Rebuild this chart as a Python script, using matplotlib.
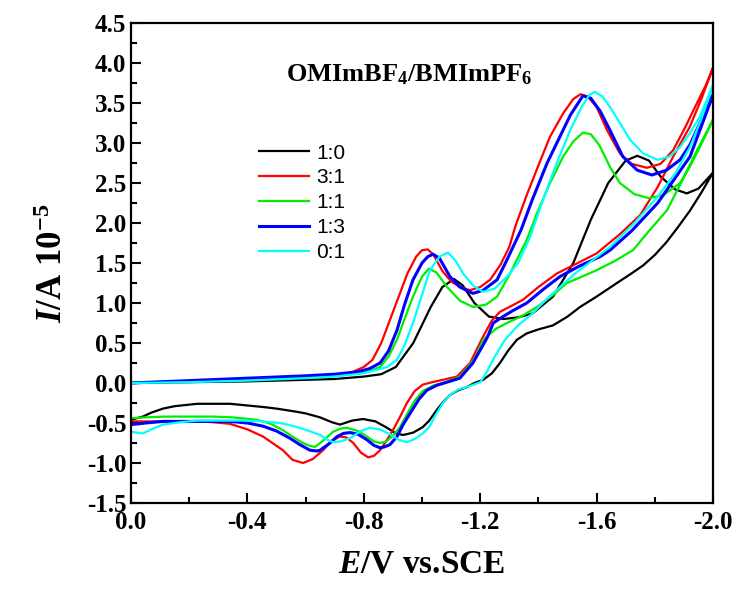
import matplotlib
matplotlib.use('Agg')
import matplotlib.pyplot as plt
from matplotlib.ticker import MultipleLocator

# ---- data: E (V vs SCE) and I (10^-5 A), forward then reverse sweep ----
labels = ['1:0', '3:1', '1:1', '1:3', '0:1']
colors = ['black', '#ff0000', '#00ee00', '#0000ff', '#00ffff']

black_fwd_E = [0, -0.2, -0.4, -0.6, -0.7, -0.8, -0.86, -0.91, -0.97, -1.03, -1.07, -1.11, -1.14, -1.18,
               -1.23, -1.28, -1.33, -1.38, -1.45, -1.52, -1.58, -1.64, -1.70, -1.74, -1.78, -1.82, -1.87,
               -1.91, -1.95, -2.0]
black_fwd_I = [0, 0.01, 0.02, 0.04, 0.05, 0.08, 0.11, 0.2, 0.5, 0.95, 1.2, 1.3, 1.22, 1.0,
               0.83, 0.8, 0.82, 0.87, 1.08, 1.5, 2.04, 2.5, 2.78, 2.84, 2.78, 2.58, 2.42,
               2.37, 2.43, 2.63]
black_rev_E = [-2.0, -1.96, -1.92, -1.88, -1.84, -1.80, -1.76, -1.72, -1.67, -1.6, -1.543, -1.5, -1.45,
               -1.40, -1.36, -1.326, -1.295, -1.268, -1.24, -1.21, -1.18, -1.155, -1.125, -1.096, -1.07,
               -1.05, -1.025, -1.003, -0.97, -0.935, -0.91, -0.88, -0.84, -0.797, -0.76, -0.718, -0.69,
               -0.65, -0.6, -0.57, -0.5, -0.454, -0.34, -0.227, -0.15, -0.11, -0.07, -0.041, -0.02, 0]
black_rev_I = [2.63, 2.38, 2.15, 1.95, 1.76, 1.6, 1.47, 1.37, 1.25, 1.08, 0.95, 0.83, 0.72,
               0.67, 0.62, 0.54, 0.4, 0.25, 0.12, 0.04, 0.0, -0.05, -0.09, -0.15, -0.25,
               -0.34, -0.47, -0.55, -0.62, -0.65, -0.63, -0.56, -0.48, -0.45, -0.47, -0.52, -0.49,
               -0.43, -0.38, -0.36, -0.32, -0.3, -0.26, -0.26, -0.29, -0.32, -0.37, -0.42, -0.44, -0.46]

red_fwd_E = [0, -0.2, -0.4, -0.6, -0.7, -0.75, -0.8, -0.83, -0.86, -0.89, -0.92, -0.95, -0.98, -1.0,
             -1.02, -1.04, -1.07, -1.10, -1.13, -1.165, -1.2, -1.234, -1.27, -1.30, -1.32, -1.36, -1.40,
             -1.44, -1.485, -1.52, -1.545, -1.57, -1.60, -1.636, -1.68, -1.72, -1.773, -1.82, -1.863,
             -1.905, -1.945, -1.975, -2.0]
red_fwd_I = [0, 0.02, 0.05, 0.08, 0.1, 0.12, 0.2, 0.29, 0.5, 0.79, 1.08, 1.37, 1.58, 1.66,
             1.67, 1.6, 1.4, 1.27, 1.2, 1.16, 1.2, 1.29, 1.48, 1.7, 1.95, 2.35, 2.72,
             3.08, 3.37, 3.55, 3.61, 3.58, 3.45, 3.16, 2.87, 2.74, 2.69, 2.74, 2.91,
             3.2, 3.5, 3.72, 3.94]
red_rev_E = [-2.0, -1.96, -1.92, -1.863, -1.81, -1.75, -1.68, -1.6, -1.53, -1.464, -1.40, -1.347, -1.30,
             -1.268, -1.24, -1.21, -1.165, -1.12, -1.072, -1.035, -1.003, -0.975, -0.948, -0.925, -0.9,
             -0.878, -0.856, -0.835, -0.815, -0.79, -0.764, -0.74, -0.718, -0.69, -0.66, -0.625, -0.591,
             -0.555, -0.522, -0.454, -0.40, -0.34, -0.28, -0.227, -0.11, 0]
red_rev_I = [3.94, 3.55, 3.2, 2.83, 2.45, 2.1, 1.86, 1.62, 1.49, 1.37, 1.2, 1.04, 0.95,
             0.89, 0.78, 0.58, 0.25, 0.08, 0.04, 0.01, -0.02, -0.1, -0.25, -0.42, -0.59,
             -0.72, -0.84, -0.91, -0.93, -0.87, -0.75, -0.68, -0.67, -0.72, -0.84, -0.95, -1.0,
             -0.96, -0.84, -0.67, -0.58, -0.51, -0.49, -0.48, -0.48, -0.48]

green_fwd_E = [0, -0.2, -0.4, -0.6, -0.7, -0.78, -0.82, -0.856, -0.885, -0.914, -0.94, -0.969, -1.0,
               -1.024, -1.05, -1.086, -1.13, -1.175, -1.22, -1.258, -1.3, -1.36, -1.395, -1.44, -1.485,
               -1.52, -1.553, -1.58, -1.61, -1.646, -1.68, -1.73, -1.78, -1.83, -1.887, -1.92, -1.955, -2.0]
green_fwd_I = [0, 0.02, 0.05, 0.08, 0.1, 0.12, 0.15, 0.2, 0.33, 0.54, 0.8, 1.08, 1.33,
               1.43, 1.38, 1.2, 1.03, 0.95, 0.98, 1.08, 1.35, 1.79, 2.12, 2.5, 2.83,
               3.02, 3.13, 3.11, 2.97, 2.7, 2.5, 2.36, 2.31, 2.35, 2.5, 2.7, 2.95, 3.29]
green_rev_E = [-2.0, -1.945, -1.89, -1.842, -1.78, -1.725, -1.66, -1.6, -1.55, -1.498, -1.45, -1.395,
               -1.34, -1.292, -1.255, -1.21, -1.18, -1.13, -1.09, -1.04, -1.003, -0.975, -0.95, -0.925,
               -0.9, -0.878, -0.856, -0.835, -0.811, -0.78, -0.742, -0.72, -0.694, -0.67, -0.65,
               -0.632, -0.61, -0.591, -0.555, -0.522, -0.48, -0.433, -0.35, -0.282, -0.11, -0.05, 0]
green_rev_I = [3.29, 2.91, 2.5, 2.16, 1.9, 1.66, 1.52, 1.41, 1.33, 1.25, 1.1, 0.95,
               0.83, 0.75, 0.68, 0.54, 0.3, 0.08, 0.02, -0.03, -0.1, -0.22, -0.38, -0.55,
               -0.66, -0.73, -0.75, -0.73, -0.67, -0.6, -0.56, -0.57, -0.61, -0.69, -0.75,
               -0.8, -0.78, -0.75, -0.67, -0.59, -0.51, -0.46, -0.43, -0.42, -0.42, -0.43, -0.44]

blue_fwd_E = [0, -0.2, -0.4, -0.6, -0.7, -0.78, -0.82, -0.856, -0.885, -0.914, -0.94, -0.969, -1.0,
              -1.02, -1.038, -1.06, -1.096, -1.13, -1.175, -1.21, -1.258, -1.292, -1.34, -1.38, -1.43,
              -1.474, -1.51, -1.553, -1.58, -1.612, -1.646, -1.69, -1.74, -1.79, -1.84, -1.887, -1.921,
              -1.955, -2.0]
blue_fwd_I = [0, 0.03, 0.06, 0.09, 0.11, 0.14, 0.18, 0.25, 0.4, 0.66, 0.98, 1.29, 1.5,
              1.58, 1.61, 1.56, 1.33, 1.2, 1.12, 1.16, 1.29, 1.54, 1.91, 2.3, 2.75,
              3.08, 3.35, 3.59, 3.56, 3.4, 3.16, 2.83, 2.66, 2.6, 2.66, 2.79, 2.98,
              3.25, 3.6]
blue_rev_E = [-2.0, -1.921, -1.81, -1.72, -1.646, -1.612, -1.54, -1.474, -1.42, -1.36, -1.31, -1.278,
              -1.245, -1.223, -1.175, -1.13, -1.086, -1.05, -1.017, -0.99, -0.959, -0.935, -0.914,
              -0.89, -0.87, -0.856, -0.835, -0.811, -0.78, -0.753, -0.73, -0.708, -0.684, -0.65, -0.64,
              -0.615, -0.58, -0.546, -0.5, -0.454, -0.4, -0.34, -0.2, -0.11, -0.05, 0]
blue_rev_I = [3.6, 2.83, 2.25, 1.9, 1.66, 1.58, 1.46, 1.33, 1.18, 1.0, 0.9, 0.83,
              0.75, 0.56, 0.25, 0.06, 0.01, -0.03, -0.09, -0.2, -0.38, -0.52, -0.67,
              -0.77, -0.8, -0.81, -0.78, -0.71, -0.64, -0.62, -0.63, -0.67, -0.75, -0.84, -0.85,
              -0.84, -0.77, -0.69, -0.6, -0.54, -0.5, -0.48, -0.48, -0.48, -0.5, -0.52]

cyan_fwd_E = [0, -0.2, -0.4, -0.6, -0.7, -0.797, -0.85, -0.88, -0.914, -0.94, -0.969, -1.0, -1.027,
              -1.06, -1.089, -1.115, -1.141, -1.175, -1.21, -1.25, -1.292, -1.33, -1.371, -1.416, -1.46,
              -1.509, -1.55, -1.575, -1.595, -1.62, -1.646, -1.68, -1.715, -1.76, -1.81, -1.85, -1.887,
              -1.92, -1.955, -2.0]
cyan_fwd_I = [0, 0.01, 0.03, 0.06, 0.08, 0.12, 0.17, 0.2, 0.29, 0.47, 0.75, 1.1, 1.41,
              1.58, 1.63, 1.53, 1.37, 1.22, 1.14, 1.18, 1.33, 1.5, 1.82, 2.29, 2.72,
              3.16, 3.46, 3.6, 3.64, 3.58, 3.45, 3.25, 3.04, 2.87, 2.79, 2.83, 2.95,
              3.12, 3.33, 3.72]
cyan_rev_E = [-2.0, -1.96, -1.921, -1.87, -1.81, -1.73, -1.646, -1.588, -1.53, -1.474, -1.42, -1.38,
              -1.33, -1.285, -1.265, -1.244, -1.22, -1.2, -1.155, -1.125, -1.096, -1.07, -1.05, -1.025,
              -1.003, -0.975, -0.948, -0.92, -0.89, -0.855, -0.821, -0.79, -0.753, -0.72, -0.694, -0.67,
              -0.65, -0.605, -0.56, -0.512, -0.45, -0.399, -0.3, -0.227, -0.17, -0.11, -0.07, -0.041,
              -0.02, 0]
cyan_rev_I = [3.72, 3.3, 2.95, 2.62, 2.33, 2.0, 1.7, 1.54, 1.38, 1.2, 1.02, 0.87,
              0.72, 0.54, 0.42, 0.29, 0.12, 0.01, -0.05, -0.08, -0.15, -0.26, -0.38, -0.55,
              -0.63, -0.7, -0.74, -0.71, -0.64, -0.58, -0.56, -0.6, -0.69, -0.73, -0.74, -0.7,
              -0.65, -0.59, -0.54, -0.5, -0.48, -0.47, -0.47, -0.47, -0.49, -0.52, -0.58, -0.63,
              -0.62, -0.61]

curves_E = [black_fwd_E + black_rev_E, red_fwd_E + red_rev_E, green_fwd_E + green_rev_E,
            blue_fwd_E + blue_rev_E, cyan_fwd_E + cyan_rev_E]
curves_I = [black_fwd_I + black_rev_I, red_fwd_I + red_rev_I, green_fwd_I + green_rev_I,
            blue_fwd_I + blue_rev_I, cyan_fwd_I + cyan_rev_I]
widths = [1.6, 1.6, 1.6, 2.2, 1.6]

# ---- style ----
plt.rcParams['font.family'] = 'Liberation Serif'
plt.rcParams['font.weight'] = 'bold'
plt.rcParams['axes.labelweight'] = 'bold'
plt.rcParams['axes.unicode_minus'] = False
plt.rcParams['mathtext.fontset'] = 'custom'
plt.rcParams['mathtext.rm'] = 'Liberation Serif:bold'
plt.rcParams['mathtext.it'] = 'Liberation Serif:italic:bold'
plt.rcParams['mathtext.bf'] = 'Liberation Serif:bold'

fig = plt.figure(figsize=(7.37, 5.91), dpi=100)
ax = fig.add_axes([131 / 737, 1 - 503 / 591, 582 / 737, 480 / 591])

for E, I, c, lab, lw in zip(curves_E, curves_I, colors, labels, widths):
    ax.plot(E, I, color=c, lw=lw, label=lab, solid_joinstyle='round')

ax.set_xlim(0, -2.0)
ax.set_ylim(-1.5, 4.5)
ax.xaxis.set_major_locator(MultipleLocator(0.4))
ax.xaxis.set_minor_locator(MultipleLocator(0.2))
ax.yaxis.set_major_locator(MultipleLocator(0.5))
ax.yaxis.set_minor_locator(MultipleLocator(0.25))
ax.xaxis.set_major_formatter(lambda v, p: '%.1f' % v)
ax.yaxis.set_major_formatter(lambda v, p: '%.1f' % v)
ax.tick_params(which='both', direction='in', width=1.5, labelsize=18, top=False, right=False)
ax.tick_params(which='major', length=7)
ax.tick_params(which='minor', length=4)
ax.tick_params(axis='x', pad=6)
for s in ax.spines.values():
    s.set_linewidth(1.6)

ax.set_xlabel(r'$\mathit{E}$/V vs.SCE', fontsize=24, labelpad=10)
ax.set_ylabel(r'$\mathit{I}$/A 10$^{\mathbf{-5}}$', fontsize=25, labelpad=12)

ax.text(0.478, 0.892, r'OMImBF$_4$/BMImPF$_6$', transform=ax.transAxes,
        ha='center', va='center', fontsize=19)

leg = ax.legend(loc='upper left', bbox_to_anchor=(0.205, 0.766), frameon=False,
                prop={'family': 'Liberation Sans', 'weight': 'normal', 'size': 15},
                handlelength=2.4, handletextpad=0.35, labelspacing=0.28, borderaxespad=0)

fig.savefig('out.png', dpi=100)
